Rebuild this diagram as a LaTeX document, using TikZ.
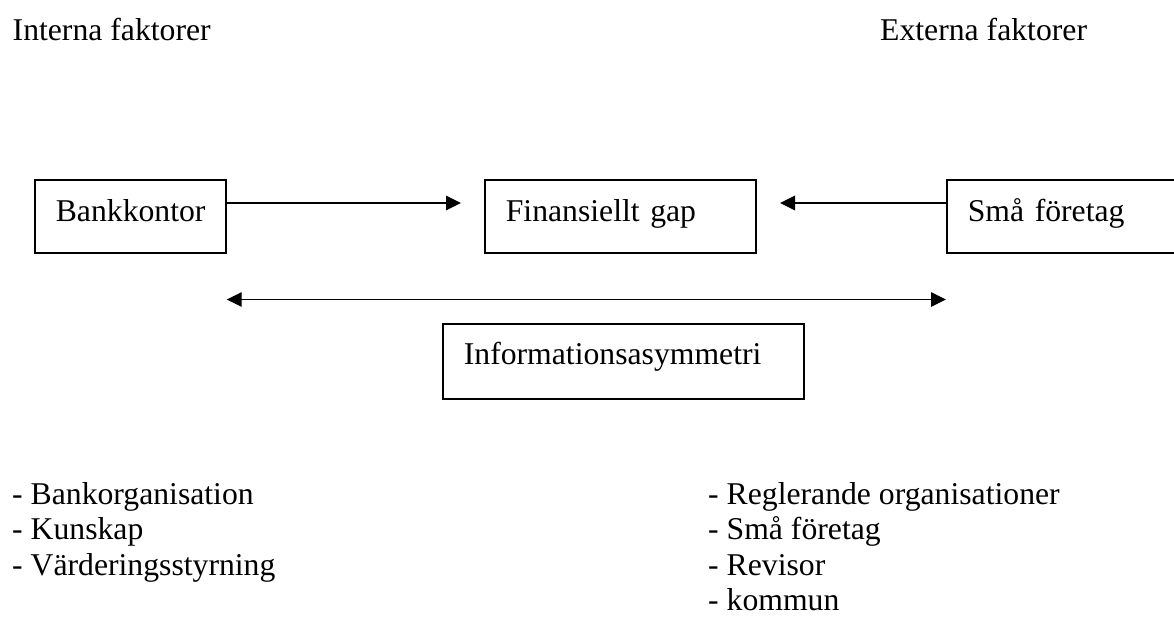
\documentclass[tikz,border=0pt]{standalone}
\usepackage{fontspec}
\setmainfont{Liberation Serif}
\usetikzlibrary{arrows.meta}
\tikzset{
  txt/.style={inner sep=0pt, anchor=base west, font=\fontsize{31.7}{36.7}\selectfont},
  boxnode/.style={draw, line width=1.7pt, anchor=north west, inner xsep=21pt, inner ysep=0pt,
    align=left, text height=22pt, text depth=11pt, minimum height=73pt,
    font=\fontsize{31.7}{36.7}\selectfont},
  arr/.style={line width=1.4pt, -{Triangle[length=15pt,width=14.5pt]}},
  dblarr/.style={line width=1.4pt, {Triangle[length=15pt,width=14.5pt]}-{Triangle[length=15pt,width=14.5pt]}}
}
\begin{document}
\begin{tikzpicture}[x=1pt,y=-1pt]
\useasboundingbox (0,0) rectangle (1174,619);
\clip (0,0) rectangle (1174,619);
% headings
\node[txt] (int) at (12.5,40) {Interna faktorer};
\node[txt] (ext) at (880,40) {Externa faktorer};
% boxes
\node[boxnode, text width=149pt] (bank) at (34,179) {Bankkontor};
\node[boxnode, text width=229pt] (fin) at (484,179) {Finansiellt gap};
\node[boxnode, text width=188pt] (sma) at (946,179) {Små företag};
\node[boxnode, text width=319pt, minimum height=75pt, text depth=15pt] (info) at (442,323) {Informationsasymmetri};
% connectors
\coordinate (a1e) at (461,203);
\coordinate (a2e) at (780,203);
\coordinate (mid) at (0,299.5);
\draw[arr] (bank.east |- a1e) -- (a1e);
\draw[arr] (sma.west |- a2e) -- (a2e);
\draw[dblarr] (bank.east |- mid) -- (sma.west |- mid);
% lists
\node[txt] (l1) at (12,504) {- Bankorganisation};
\node[txt] (l2) at (12,539.5) {- Kunskap};
\node[txt] (l3) at (12,575) {- Värderingsstyrning};
\node[txt] (r1) at (708,504) {- Reglerande organisationer};
\node[txt] (r2) at (708,539.5) {- Små företag};
\node[txt] (r3) at (708,575) {- Revisor};
\node[txt] (r4) at (708,610.5) {- kommun};
\end{tikzpicture}
\end{document}
